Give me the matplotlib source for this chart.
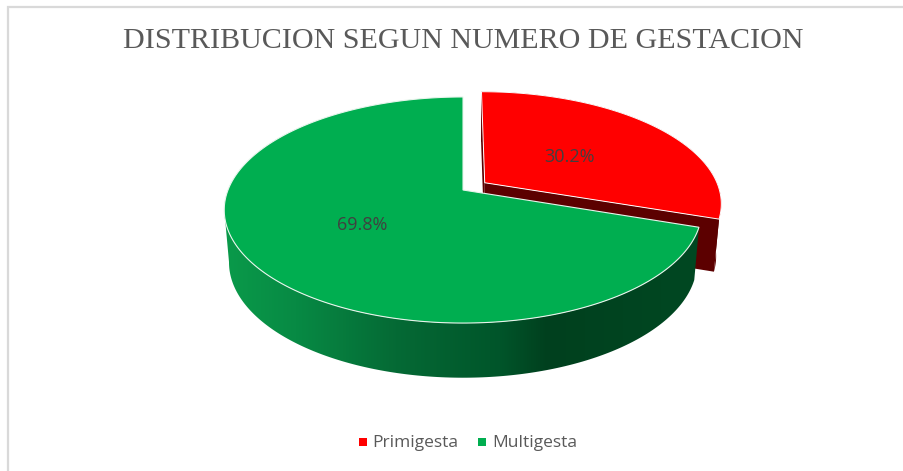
import numpy as np
import matplotlib
matplotlib.use('Agg')
import matplotlib.pyplot as plt
from matplotlib.patches import Polygon, Rectangle
from matplotlib.colors import LinearSegmentedColormap

categories = ['Primigesta', 'Multigesta']
shares = [30.2, 69.8]
colors = ['#ff0000', '#00ae50']
title = 'DISTRIBUCION SEGUN NUMERO DE GESTACION'

# pie geometry, in pixels of the 904x471 canvas
cx, cy = 463, 190
scale_x, scale_y, tilt = 235, 109.5, 0.177
explode = 0.115


def top_face(u, v):
    d = 1 + tilt * v
    return cx + scale_x * u / d, cy - scale_y * v / d


def lower_face(u, v):
    x, y = top_face(u, v)
    return cx + (x - cx) * 0.98, cy + 52 + (y - cy) * 1.02


def wedge(start, end, shift=0.0):
    # angles in degrees, clockwise from the back of the pie
    t = np.radians(np.linspace(start, end, 300))
    mid = np.radians((start + end) / 2)
    u0, v0 = shift * np.sin(mid), shift * np.cos(mid)
    return np.sin(t) + u0, np.cos(t) + v0, u0, v0


fig = plt.figure(figsize=(9.04, 4.71), dpi=100)
ax = fig.add_axes([0, 0, 1, 1])
ax.set_xlim(0, 904)
ax.set_ylim(471, 0)
ax.axis('off')

ax.plot([8.5, 8.5, 904], [471, 7, 7], color='#d9d9d9', lw=1.6, solid_joinstyle='miter')

angle_red = shares[0] / sum(shares) * 360

# red slice: walls first, then its top
u, v, u0, v0 = wedge(0, angle_red, explode)
dark_red = '#5c0000'
tx, ty = top_face(u, v)
lx, ly = lower_face(u, v)
ax_, ay_ = top_face(u0, v0)
bx_, by_ = lower_face(u0, v0)
ax.add_patch(Polygon([(ax_, ay_), (tx[-1], ty[-1]), (lx[-1], ly[-1]), (bx_, by_)],
                     fc=dark_red, ec='none'))
ax.add_patch(Polygon([(tx[0], ty[0]), (ax_, ay_), (bx_, by_), (lx[0], ly[0])],
                     fc=dark_red, ec='none'))
ax.add_patch(Polygon(np.r_[np.c_[tx, ty], np.c_[lx, ly][::-1]], fc=dark_red, ec='none'))
ax.add_patch(Polygon(np.r_[[(ax_, ay_)], np.c_[tx, ty]], fc=colors[0], ec='white', lw=0.7))

# green slice wall with its horizontal shading, up to the left silhouette
u, v, _, _ = wedge(angle_red, 360)
tx, ty = top_face(u, v)
lx, ly = lower_face(u, v)
left = np.argmin(tx) + 1
wall = Polygon(np.r_[np.c_[lx, ly][:left], np.c_[tx, ty][:left][::-1]], fc='none', ec='none')
ax.add_patch(wall)
shade = LinearSegmentedColormap.from_list('wall', [
    (0.0, '#0a9a4a'), (0.15, '#078a44'), (0.36, '#056a35'), (0.58, '#00552a'),
    (0.68, '#00401e'), (1.0, '#004822')])
grad = ax.imshow(np.linspace(0, 1, 256)[None, :], cmap=shade, aspect='auto',
                 extent=[224, 700, 400, 180], zorder=1)
grad.set_clip_path(wall)
ax.set_xlim(0, 904)
ax.set_ylim(471, 0)

# green slice top
ax.add_patch(Polygon(np.r_[[(cx, cy)], np.c_[tx, ty]], fc=colors[1], ec='#e8f5ec', lw=0.8, zorder=2))

label_font = ['Open Sans', 'DejaVu Sans']
ax.text(569.5, 156.5, f'{shares[0]:.1f}%', ha='center', va='center', fontsize=13,
        color='#404040', family=label_font, zorder=3)
ax.text(362.5, 225.5, f'{shares[1]:.1f}%', ha='center', va='center', fontsize=13,
        color='#404040', family=label_font, zorder=3)

ax.text(463, 41, title, ha='center', va='center', fontsize=21.65, color='#595959',
        family='Liberation Serif')

# legend
for x_box, x_text, name, col in zip([359, 478], [372, 492], categories, colors):
    ax.add_patch(Rectangle((x_box, 438), 8, 8, fc=col, ec='none'))
    ax.text(x_text, 443, name, ha='left', va='center', fontsize=12.5, color='#595959',
            family=label_font)

fig.savefig('out.png', dpi=100)
